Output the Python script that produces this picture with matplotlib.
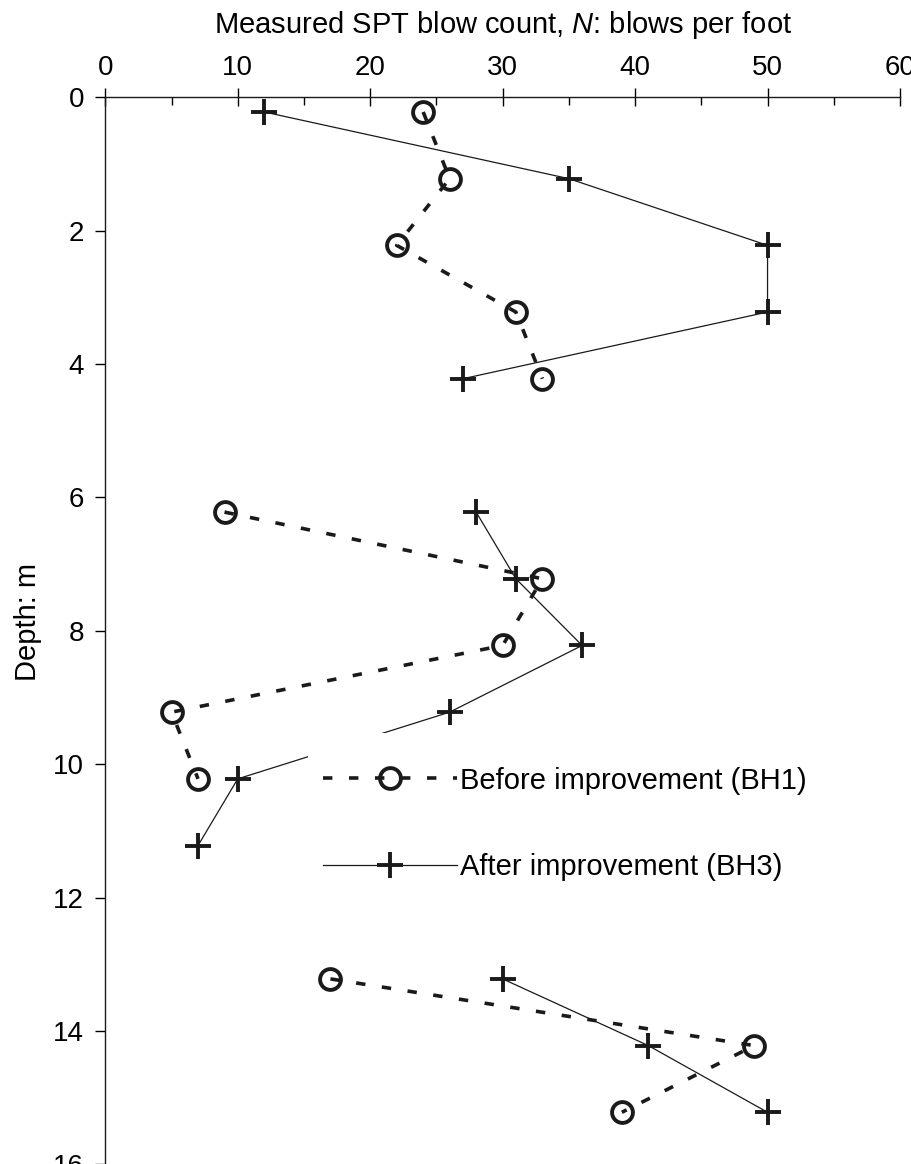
import numpy as np
import matplotlib
matplotlib.use("Agg")
import matplotlib.pyplot as plt
from matplotlib.patches import Rectangle

plt.rcParams['font.family'] = ['Liberation Sans', 'DejaVu Sans']
plt.rcParams['mathtext.fontset'] = 'custom'
plt.rcParams['mathtext.it'] = 'Liberation Sans:italic'
plt.rcParams['mathtext.rm'] = 'Liberation Sans'

# SPT data, depth in m, N in blows per foot
before_depth = [[0.22, 1.22, 2.22, 3.22, 4.22],
                [6.22, 7.22, 8.22, 9.22, 10.22],
                [13.22, 14.22, 15.22]]
before_n = [[24, 26, 22, 31, 33],
            [9, 33, 30, 5, 7],
            [17, 49, 39]]

after_depth = [[0.22, 1.22, 2.22, 3.22, 4.22],
               [6.22, 7.22, 8.22, 9.22, 10.22, 11.22],
               [13.22, 14.22, 15.22]]
after_n = [[12, 35, 50, 50, 27],
           [28, 31, 36, 26, 10, 7],
           [30, 41, 50]]

xticks = [0, 10, 20, 30, 40, 50, 60]
yticks = [0, 2, 4, 6, 8, 10, 12, 14, 16]

W, H = 911, 1164
fig = plt.figure(figsize=(W / 100, H / 100), dpi=100)
ax = fig.add_axes([105.3 / W, 1 - 1164.3 / H, (900 - 105.3) / W, (1164.3 - 97.3) / H])

dash = (0, (2.6, 4.6))
for i in range(len(before_depth)):
    ax.plot(before_n[i], before_depth[i], color='#1a1a1a', lw=2.6, linestyle=dash,
            marker='o', ms=15, mfc='none', mec='#1a1a1a', mew=2.8,
            label='Before improvement (BH1)' if i == 0 else None, zorder=3)
for i in range(len(after_depth)):
    ax.plot(after_n[i], after_depth[i], color='#1a1a1a', lw=0.9, linestyle='-',
            marker='+', ms=19, mec='#1a1a1a', mew=2.8,
            label='After improvement (BH3)' if i == 0 else None, zorder=3)

# white box behind the legend, hides part of the line
ax.add_patch(Rectangle((308 / W, 1 - 900 / H), 520 / W, 167 / H, transform=fig.transFigure,
                       facecolor='white', edgecolor='none', zorder=4))

leg = ax.legend(loc='upper left', bbox_to_anchor=(311 / W, 1 - 755 / H),
                bbox_transform=fig.transFigure, borderaxespad=0, frameon=False,
                fontsize=21, handlelength=4.6, handletextpad=0.1, labelspacing=2.0,
                numpoints=1)
leg.set_zorder(5)

ax.set_xlim(0, 60)
ax.set_ylim(16, 0)
ax.xaxis.tick_top()
ax.xaxis.set_label_position('top')
ax.set_xticks(xticks)
ax.set_xticks([5, 15, 25, 35, 45, 55], minor=True)
ax.set_yticks(yticks)
ax.tick_params(axis='x', which='major', direction='inout', length=13, width=1,
               labelsize=20, pad=5)
ax.tick_params(axis='x', which='minor', direction='in', length=5.8, width=1)
ax.tick_params(axis='y', which='major', direction='out', length=7.2, width=1,
               labelsize=20, pad=8)
ax.set_xlabel('Measured SPT blow count, $N$: blows per foot', fontsize=21, labelpad=16)
ax.set_ylabel('Depth: m', fontsize=21, labelpad=8)
ax.yaxis.label.set_y(0.508)

for s in ['right', 'bottom']:
    ax.spines[s].set_visible(False)
for s in ['left', 'top']:
    ax.spines[s].set_linewidth(1)
    ax.spines[s].set_color('#1a1a1a')

fig.savefig('out.png', dpi=100)
